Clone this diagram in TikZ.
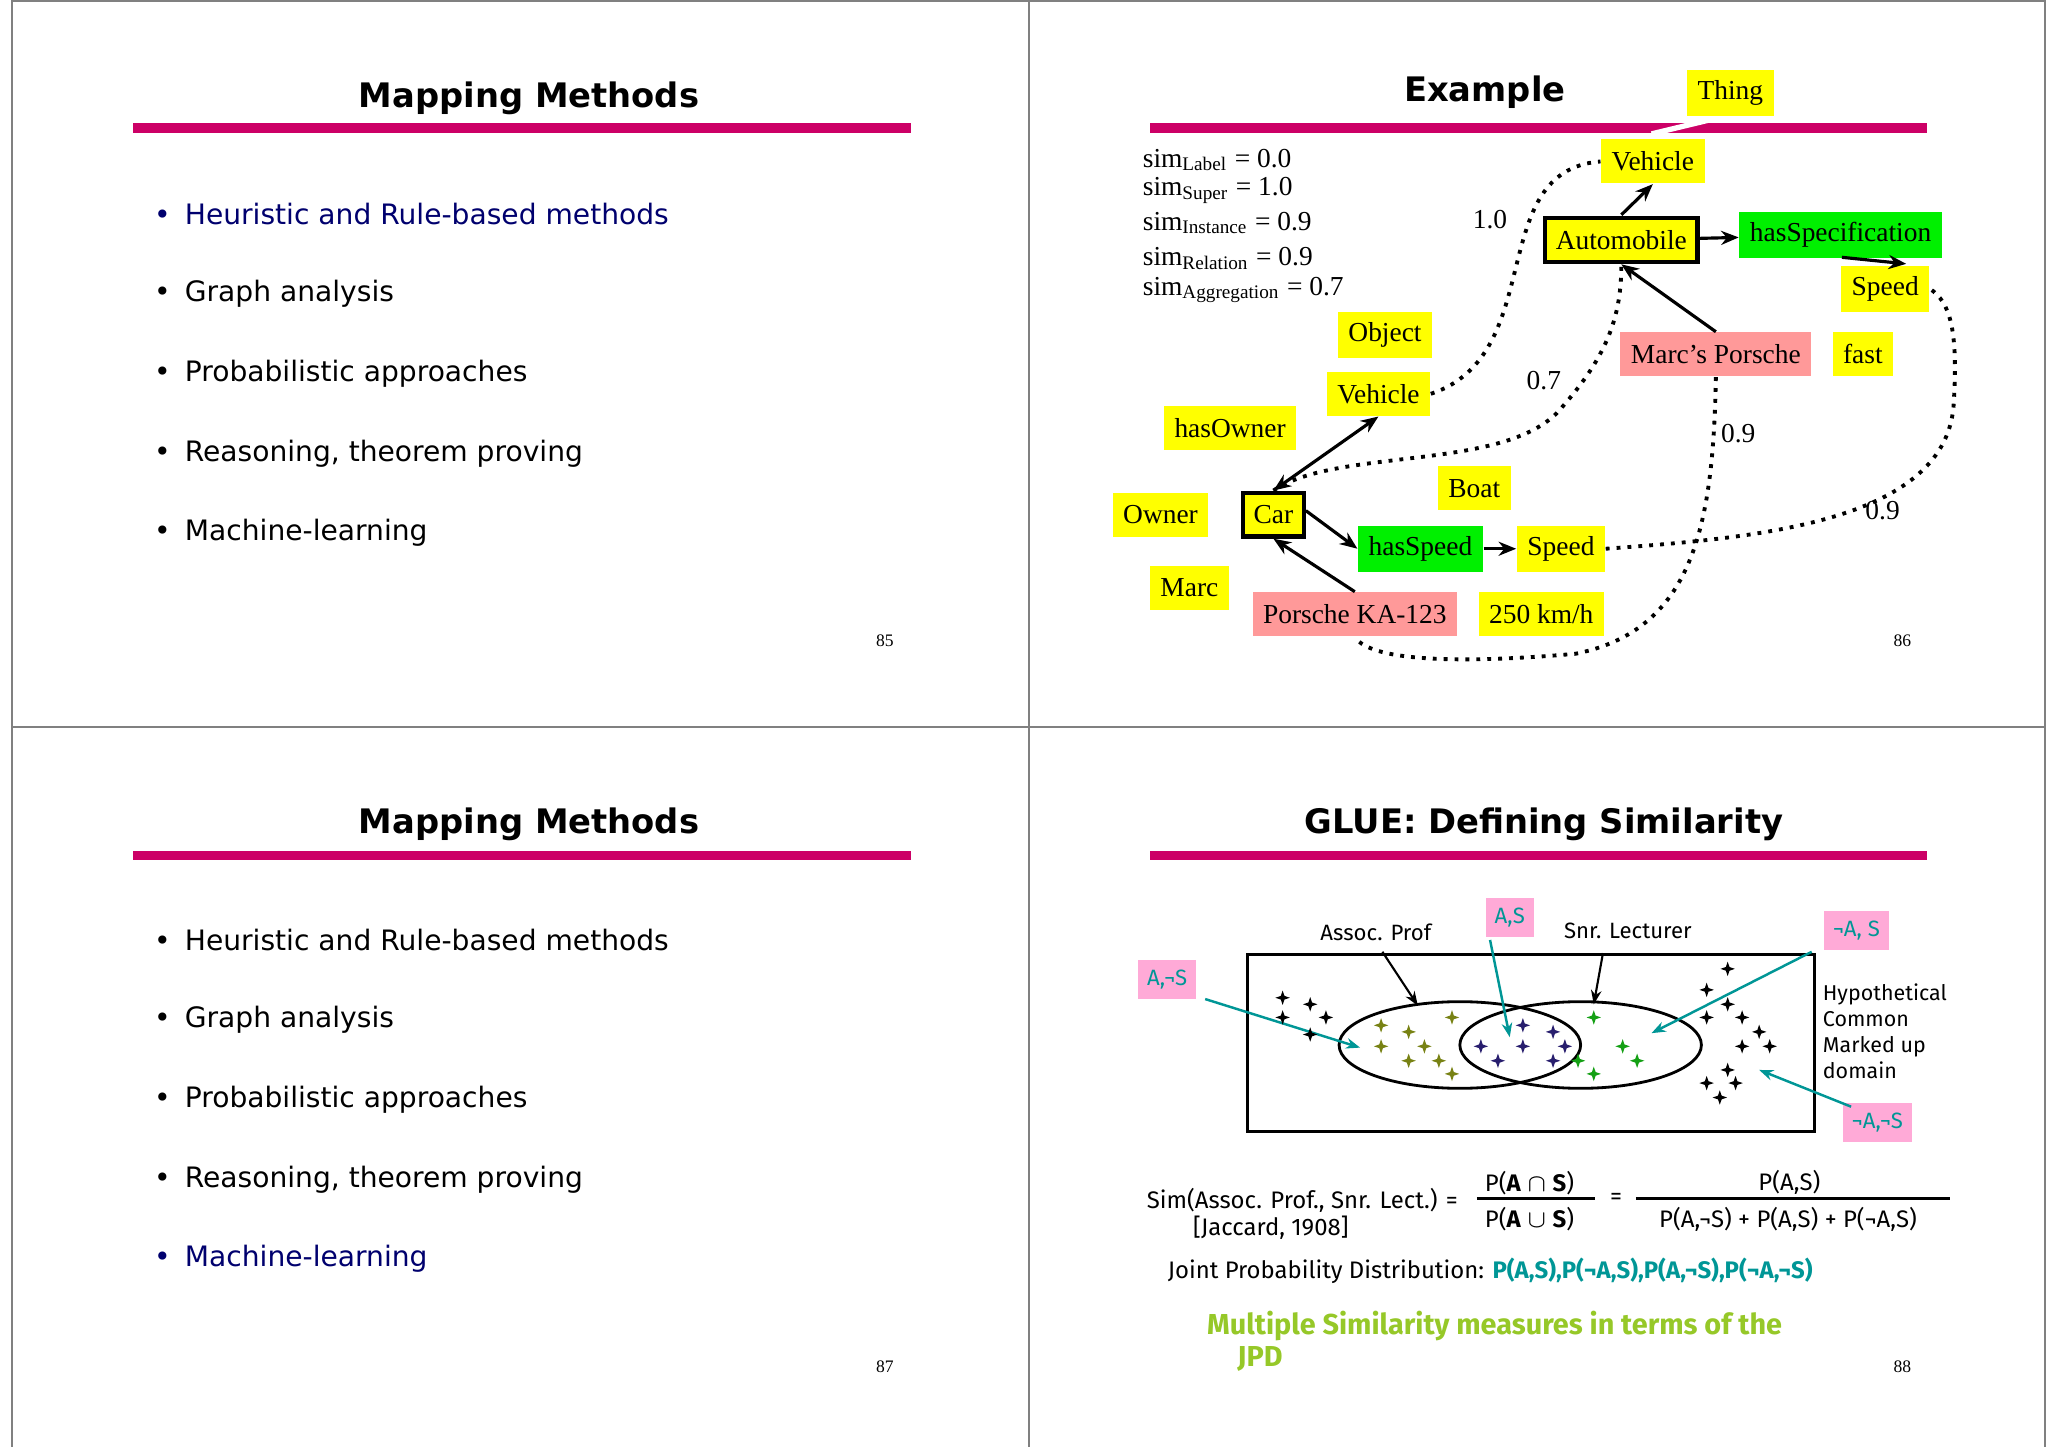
\documentclass[tikz,border=0pt]{standalone}
\usepackage{fontspec}
\setmainfont{DejaVu Sans}
\newfontfamily\tms{Liberation Serif}
\newfontfamily\cms{Fira Sans}
\usetikzlibrary{shapes.geometric,arrows.meta}
\definecolor{bar}{RGB}{204,0,102}
\definecolor{navy}{RGB}{0,0,110}
\definecolor{ylw}{RGB}{255,255,0}
\definecolor{grn}{RGB}{0,240,0}
\definecolor{pnk}{RGB}{255,153,153}
\definecolor{pk2}{RGB}{255,170,215}
\definecolor{teal}{RGB}{0,150,150}
\definecolor{lime}{RGB}{150,200,40}
\definecolor{olv}{RGB}{120,130,20}
\definecolor{nvs}{RGB}{40,30,110}
\definecolor{gst}{RGB}{20,160,20}
\begin{document}
\begin{tikzpicture}[x=0.01313cm,y=-0.01313cm,
 ttl/.style={font=\fontsize{9.6}{12}\selectfont\bfseries},
 bul/.style={anchor=west,font=\fontsize{8}{10}\selectfont},
 pg/.style={font=\fontsize{5}{6}\selectfont\tms},
 ex/.style={font=\fontsize{7.8}{9}\selectfont\tms,inner sep=3pt,minimum height=12.5pt},
 yb/.style={ex,fill=ylw},
 gb/.style={ex,fill=grn},
 pb/.style={ex,fill=pnk},
 kb/.style={yb,draw=black,line width=1.2pt},
 ar/.style={-{Stealth[length=5pt,width=4pt]},line width=0.9pt},
 dt/.style={dotted,line width=1.1pt},
 gl/.style={font=\fontsize{6.3}{7.5}\selectfont\cms},
 pkl/.style={gl,fill=pk2,text=teal,inner sep=2.5pt,minimum height=11pt},
 ta/.style={-{Stealth[length=4pt,width=3pt]},teal,line width=0.7pt},
 ba/.style={-{Stealth[length=4pt,width=3pt]},line width=0.6pt},
 st/.pic={\fill[#1] (0,-5.5)--(1.4,-1.4)--(5.5,0)--(1.4,1.4)--(0,5.5)--(-1.4,1.4)--(-5.5,0)--(-1.4,-1.4)--cycle;}]
\useasboundingbox (0,0) rectangle (1560,1102);
\fill[white] (0,0) rectangle (1560,1102);
\draw[gray,line width=0.6pt] (9,1) rectangle (1558,1106);
\draw[gray,line width=0.6pt] (784,1) -- (784,1106) (9,554) -- (1558,554);
\fill[bar] (101,94) rectangle (694,101);
\fill[bar] (101,648) rectangle (694,655);
\fill[bar] (876,94) rectangle (1468,101);
\fill[bar] (876,648) rectangle (1468,655);
\node[ttl] (t1) at (403,75) {Mapping Methods};
\foreach \y/\t/\c in {163/Heuristic and Rule-based methods/navy,224/Graph analysis/black,285/Probabilistic approaches/black,346/{Reasoning, theorem proving}/black,406/Machine-learning/black}{
 \node[bul,text=\c] at (108,\y) {•\hspace{0.5em}\t};}
\node[pg] (p85) at (674,488) {85};
\node[ttl] (t3) at (403,628) {Mapping Methods};
\foreach \y/\t/\c in {716/Heuristic and Rule-based methods/black,777/Graph analysis/black,838/Probabilistic approaches/black,899/{Reasoning, theorem proving}/black,959/Machine-learning/navy}{
 \node[bul,text=\c] at (108,\y) {•\hspace{0.5em}\t};}
\node[pg] (p87) at (674,1041) {87};
\node[ttl] (t2) at (1131,70) {Example};
\node[pg] (p86) at (1449,488) {86};
\draw[white,line width=1.5pt] (1258,102) -- (1312,89);
\node[yb] (thing) at (1318,71) {Thing};
\node[yb] (veh1) at (1259,123) {Vehicle};
\node[kb] (auto) at (1235,183) {Automobile};
\node[gb] (hspec) at (1402,179) {hasSpecification};
\node[yb] (spd1) at (1436,220) {Speed};
\node[pb] (mp) at (1307,270) {Marc’s Porsche};
\node[yb] (fast) at (1419,270) {fast};
\node[yb] (obj) at (1055,255) {Object};
\node[yb] (veh2) at (1050,300) {Vehicle};
\node[yb] (hown) at (937,326) {hasOwner};
\node[yb] (boat) at (1123,372) {Boat};
\node[yb] (own) at (884,392) {Owner};
\node[kb] (car) at (970,392) {Car};
\node[gb] (hspd) at (1082,418) {hasSpeed};
\node[yb] (spd2) at (1189,418) {Speed};
\node[yb] (marc) at (906,448) {Marc};
\node[pb] (pka) at (1032,468) {Porsche KA-123};
\node[yb] (kmh) at (1174,468) {250 km/h};
\foreach \y/\s/\v in {122/Label/0.0,145/Super/1.0,170/Instance/0.9,197/Relation/0.9,221/Aggregation/0.7}{
 \node[anchor=west,font=\fontsize{7.8}{9}\selectfont\tms,inner sep=0pt] at (870,\y) {sim\textsubscript{\s} = \v};}
\node[ex] (n10) at (1135,167) {1.0};
\node[ex] (n07) at (1176,290) {0.7};
\node[ex] (n09a) at (1324,330) {0.9};
\node[ex] (n09b) at (1434,389) {0.9};
\draw[ar] (auto.north) ++(0,-1) -- (veh1.south);
\draw[ar] (auto) -- (hspec);
\draw[ar] (1403,196) -- (1452,201);
\draw[ar] (mp.north) -- (auto.south);
\draw[ar,{Stealth[length=5pt,width=4pt]}-{Stealth[length=5pt,width=4pt]}] (car.north) -- (veh2.south);
\draw[ar] (car.east) ++(0,-3) -- (hspd.west);
\draw[ar] (hspd) -- (spd2);
\draw[ar] (pka.north) -- (car.south);
\draw[dt] (veh2.east) .. controls (1180,270) and (1130,130) .. (veh1.west);
\draw[dt] (car.north) .. controls (1020,340) and (1150,360) .. (1190,310) .. controls (1225,270) and (1235,240) .. (auto.south);
\draw[dt] (spd2.east) .. controls (1330,410) and (1480,400) .. (1488,310) .. controls (1492,250) and (1485,230) .. (spd1.east);
\draw[dt] (mp.south) .. controls (1305,400) and (1290,480) .. (1200,498) .. controls (1120,505) and (1045,505) .. (pka.south);
\node[ttl] (t4) at (1176,628) {GLUE: Defining Similarity};
\node[pg] (p88) at (1449,1041) {88};
\draw[line width=0.9pt] (950,727) rectangle (1382,862);
\draw[line width=0.8pt] (1112,796) ellipse (92 and 33);
\draw[line width=0.8pt] (1204,796) ellipse (92 and 33);
\node[gl] (ap) at (1048,710) {Assoc. Prof};
\node[gl] (sl) at (1240,709) {Snr. Lecturer};
\node[pkl] (as) at (1150,699) {A,S};
\node[pkl] (nas) at (1414,709) {¬A, S};
\node[pkl] (ans) at (889,746) {A,¬S};
\node[pkl] (nans) at (1430,855) {¬A,¬S};
\node[gl,anchor=north west,align=left,inner sep=0pt,font=\fontsize{6.1}{7.4}\selectfont\cms] (hyp) at (1388,749) {Hypothetical\\Common\\Marked up\\domain};
\coordinate (ape) at (1080,766);
\coordinate (sle) at (1214,765);
\coordinate (ase) at (1150,790);
\coordinate (nase) at (1258,787);
\coordinate (anse) at (1036,798);
\coordinate (nanse) at (1340,815);
\draw[ba] (1053,725) -- (ape);
\draw[ba] (1221,726) -- (sle);
\draw[ta] (1135,716) -- (ase);
\draw[ta] (1380,725) -- (nase);
\draw[ta] (918,761) -- (anse);
\draw[ta] (1410,843) -- (nanse);
\foreach \p in {(977,760),(998,765),(977,775),(1010,775),(998,788),(1316,738),(1300,754),(1316,765),(1300,775),(1327,775),(1340,786),(1327,797),(1348,797),(1316,815),(1300,825),(1322,825),(1310,836)}
 \pic at \p {st=black};
\foreach \p in {(1052,781),(1073,786),(1106,775),(1052,797),(1085,797),(1073,808),(1096,808),(1106,818)}
 \pic at \p {st=olv};
\foreach \p in {(1160,781),(1183,786),(1128,797),(1160,797),(1192,797),(1141,808),(1183,808)}
 \pic at \p {st=nvs};
\foreach \p in {(1214,775),(1236,797),(1202,808),(1247,808),(1214,818)}
 \pic at \p {st=gst};
\node[gl,anchor=east,font=\fontsize{6.8}{8}\selectfont\cms] (sim) at (1120,914) {Sim(Assoc. Prof., Snr. Lect.) =};
\node[gl,font=\fontsize{6.8}{8}\selectfont\cms] (jac) at (968,935) {[Jaccard, 1908]};
\node[gl,font=\fontsize{6.8}{8}\selectfont\cms] (f1n) at (1165,901) {P(\textbf{A} $\cap$ \textbf{S})};
\node[gl,font=\fontsize{6.8}{8}\selectfont\cms] (f1d) at (1165,929) {P(\textbf{A} $\cup$ \textbf{S})};
\draw[line width=0.8pt] (1125,913) -- (1215,913);
\node[gl,font=\fontsize{6.8}{8}\selectfont\cms] (eq) at (1231,913) {=};
\draw[line width=0.8pt] (1246,913) -- (1485,913);
\node[gl,font=\fontsize{6.8}{8}\selectfont\cms] (f2n) at (1363,901) {P(A,S)};
\node[gl,font=\fontsize{6.8}{8}\selectfont\cms] (f2d) at (1362,929) {P(A,¬S) + P(A,S) + P(¬A,S)};
\node[gl,anchor=west,inner sep=0pt,font=\fontsize{6.8}{8}\selectfont\cms] (jpd) at (889,968) {Joint Probability Distribution: \textcolor{teal}{\bfseries P(A,S),P(¬A,S),P(A,¬S),P(¬A,¬S)}};
\node[anchor=west,inner sep=0pt,text=lime,font=\fontsize{8.2}{10}\selectfont\cms\bfseries] (m1) at (919,1010) {Multiple Similarity measures in terms of the};
\node[anchor=west,inner sep=0pt,text=lime,font=\fontsize{8.2}{10}\selectfont\cms\bfseries] (m2) at (942,1035) {JPD};
\end{tikzpicture}
\end{document}
